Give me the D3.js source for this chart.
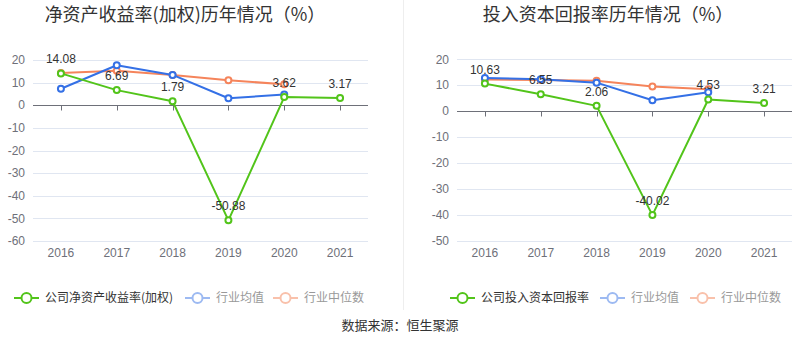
<!DOCTYPE html>
<html><head><meta charset="utf-8">
<script src="https://cdn.jsdelivr.net/npm/d3@7"></script>
<style>body{margin:0;background:#fff}svg{display:block;font-family:"Liberation Sans","Noto Sans CJK SC",sans-serif}</style>
</head><body>
<script>
const years = ["2016","2017","2018","2019","2020","2021"];
// Left chart: ROE (weighted)
const roeCompany = [14.08, 6.69, 1.79, -50.88, 3.62, 3.17];
const roeMean = [7.3, 17.7, 13.4, 3.1, 4.7, null];
const roeMedian = [14.2, 15.3, 13.4, 11.0, 9.3, null];
const roeTicks = [20, 10, 0, -10, -20, -30, -40, -50, -60];
// Right chart: ROIC
const roicCompany = [10.63, 6.55, 2.06, -40.02, 4.53, 3.21];
const roicMean = [12.8, 12.3, 11.0, 4.2, 7.3, null];
const roicMedian = [12.2, 12.0, 11.7, 9.5, 8.5, null];
const roicTicks = [20, 10, 0, -10, -20, -30, -40, -50];

const titles = ["净资产收益率(加权)历年情况（%）", "投入资本回报率历年情况（%）"];
const legendNames = [["公司净资产收益率(加权)", "行业均值", "行业中位数"], ["公司投入资本回报率", "行业均值", "行业中位数"]];

const GREEN = "#52c41a", BLUE = "#3470e6", ORANGE = "#f5845b";
const CJK = '"Noto Sans CJK SC",sans-serif';
const W = 800, H = 358;
const svg = d3.select("body").append("svg").attr("width", W).attr("height", H);

// divider
svg.append("line").attr("x1", 403.5).attr("x2", 403.5).attr("y1", 0).attr("y2", 310)
  .attr("stroke", "#eeeeee").attr("stroke-width", 1);

function chart(cfg) {
  const g = svg.append("g");
  const x = d3.scaleBand().domain(years).range([cfg.x0, cfg.x1]);
  const y = d3.scaleLinear().domain([cfg.ymin, cfg.ymax]).range([241, cfg.ytop]);
  // grid
  g.selectAll(".grid").data(cfg.ticks.filter(t => t !== 0)).enter().append("line")
    .attr("x1", cfg.x0).attr("x2", cfg.x1).attr("y1", d => Math.round(y(d)) + 0.5).attr("y2", d => Math.round(y(d)) + 0.5)
    .attr("stroke", "#e0e6f1").attr("stroke-width", 1);
  // y labels
  g.selectAll(".yl").data(cfg.ticks).enter().append("text")
    .attr("x", cfg.x0 - 8).attr("y", d => y(d)).attr("dy", "0.35em")
    .attr("text-anchor", "end").attr("font-size", 12).attr("fill", "#6e7079").text(d => d);
  // zero axis
  const y0 = Math.round(y(0)) + 0.5;
  g.append("line").attr("x1", cfg.x0).attr("x2", cfg.x1).attr("y1", y0).attr("y2", y0)
    .attr("stroke", "#6e7079").attr("stroke-width", 1);
  g.selectAll(".tk").data(years).enter().append("line")
    .attr("x1", d => Math.round(x(d) + x.bandwidth() / 2) + 0.5).attr("x2", d => Math.round(x(d) + x.bandwidth() / 2) + 0.5)
    .attr("y1", y0).attr("y2", y0 + 5).attr("stroke", "#6e7079");
  // x labels
  g.selectAll(".xl").data(years).enter().append("text")
    .attr("x", d => x(d) + x.bandwidth() / 2).attr("y", 257)
    .attr("text-anchor", "middle").attr("font-size", 12).attr("fill", "#6e7079").text(d => d);

  const cx = (d, i) => x(years[i]) + x.bandwidth() / 2;
  function series(vals, color) {
    const pts = vals.map((v, i) => [cx(null, i), v]).filter(p => p[1] !== null);
    g.append("path").datum(pts).attr("fill", "none").attr("stroke", color).attr("stroke-width", 2)
      .attr("stroke-linejoin", "round")
      .attr("d", d3.line().x(p => p[0]).y(p => y(p[1])));
    g.selectAll(null).data(pts).enter().append("circle")
      .attr("cx", p => p[0]).attr("cy", p => y(p[1])).attr("r", 3)
      .attr("fill", "#fff").attr("stroke", color).attr("stroke-width", 2);
  }
  series(cfg.median, ORANGE);
  series(cfg.mean, BLUE);
  series(cfg.company, GREEN);
  g.selectAll(".dl").data(cfg.company).enter().append("text")
    .attr("x", (d, i) => cx(null, i)).attr("y", d => y(d) - 10)
    .attr("text-anchor", "middle").attr("font-size", 12).attr("fill", "#333").text(d => d.toFixed(2));

  // title
  svg.append("text").attr("x", cfg.tx).attr("y", 21).attr("text-anchor", "middle")
    .attr("font-size", 18).attr("fill", "#333").style("font-family", CJK).text(cfg.title);

  // legend
  const colors = [GREEN, "#9dbaf2", "#f9c1ab"];
  const textColors = ["#333", "#999", "#999"];
  cfg.legendX.forEach((lx, i) => {
    const lg = svg.append("g").attr("transform", `translate(${lx},298)`);
    lg.append("line").attr("x1", 0).attr("x2", 25).attr("y1", 0).attr("y2", 0).attr("stroke", colors[i]).attr("stroke-width", 2);
    lg.append("circle").attr("cx", 12.5).attr("cy", 0).attr("r", 5).attr("fill", "#fff").attr("stroke", colors[i]).attr("stroke-width", 2);
    lg.append("text").attr("x", 31).attr("y", 0).attr("dy", "0.35em").attr("font-size", 12)
      .attr("fill", textColors[i]).style("font-family", CJK).text(cfg.legend[i]);
  });
}

chart({x0: 33, x1: 368, ymin: -60, ymax: 20, ytop: 60, ticks: roeTicks,
  company: roeCompany, mean: roeMean, median: roeMedian, title: titles[0], tx: 185,
  legend: legendNames[0], legendX: [14, 185, 273]});
chart({x0: 457, x1: 792, ymin: -50, ymax: 20, ytop: 59.3, ticks: roicTicks,
  company: roicCompany, mean: roicMean, median: roicMedian, title: titles[1], tx: 608,
  legend: legendNames[1], legendX: [450, 600, 690]});

svg.append("text").attr("x", 400).attr("y", 330).attr("text-anchor", "middle")
  .attr("font-size", 13).attr("fill", "#333").style("font-family", CJK).text("数据来源：恒生聚源");
</script>
</body></html>
